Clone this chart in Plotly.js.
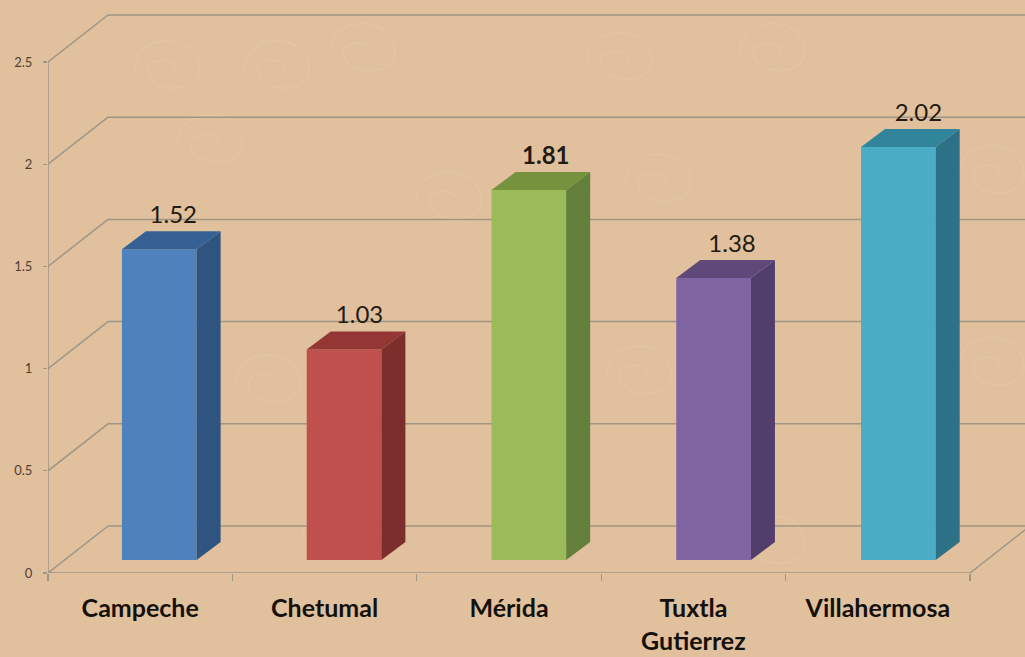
<!DOCTYPE html>
<html>
<head>
<meta charset="utf-8">
<script src="https://cdn.plot.ly/plotly-3.0.1.min.js"></script>
<style>html,body{margin:0;padding:0;background:#E1C19D;overflow:hidden}</style>
</head>
<body>
<div id="chart" style="width:1025px;height:657px"></div>
<script>
const categories = ["Campeche", "Chetumal", "Mérida", "Tuxtla<br>Gutierrez", "Villahermosa"];
const values = [1.52, 1.03, 1.81, 1.38, 2.02];
const valueLabels = ["1.52", "1.03", "<b>1.81</b>", "1.38", "2.02"];
const frontColors = ["#4F81BD", "#C0504D", "#9BBB59", "#8064A2", "#4BACC6"];
const sideColors = ["#2F5480", "#7C2E2C", "#62803A", "#523E6C", "#2C7185"];
const topColors = ["#356093", "#943634", "#76923C", "#5F497A", "#31859B"];
const yTicks = [0, 0.5, 1, 1.5, 2, 2.5];
const swirlCenters = [[125,80],[240,80],[170,165],[330,60],[600,70],[760,60],[420,230],[640,210],[990,200],[230,440],[620,430],[990,420],[300,620],[760,625]];

const W = 1025, H = 657, ML = 48, MB = 84;
const pxX = 184.4, pxY = 204.4;
const depthX = 60 / pxX, depthY = 47 / pxY;
const xMax = (W - ML) / pxX, yMax = (H - MB) / pxY;
const n = categories.length;
const barStep = 1.002, barOffset = 0.401, barWidth = 0.405;
const baseY = 13 / pxY;
const barDX = 24 / pxX, barDY = 18 / pxY;

const line = (x0, y0, x1, y1, c) => ({type: "line", layer: "below", xref: "x", yref: "y",
  x0, y0, x1, y1, line: {color: c || "#9F9585", width: 1.5}});
const swirl = ([cx, cy]) => {
  const a = 34, b = 20, c = 9;
  const X = v => ((cx + v) / W).toFixed(4), Y = v => (1 - (cy + v) / H).toFixed(4);
  return {type: "path", layer: "below", xref: "paper", yref: "paper",
    path: `M ${X(-a)} ${Y(0)} C ${X(-a)} ${Y(-a*1.3)} ${X(a)} ${Y(-a*1.3)} ${X(a)} ${Y(0)} ` +
          `C ${X(a)} ${Y(b*1.4)} ${X(-b)} ${Y(b*1.4)} ${X(-b)} ${Y(0)} ` +
          `C ${X(-b)} ${Y(-c*1.6)} ${X(c)} ${Y(-c*1.6)} ${X(c)} ${Y(0)}`,
    line: {color: "#E3C5A3", width: 1.5}, fillcolor: "rgba(0,0,0,0)"};
};
const shapes = swirlCenters.map(swirl);
yTicks.forEach(t => {
  shapes.push(line(0, t, depthX, t + depthY));
  shapes.push(line(depthX, t + depthY, xMax, t + depthY));
});
shapes.push(line(0, 0, 0, yTicks[yTicks.length - 1]));
shapes.push(line(0, 0, n, 0));
shapes.push(line(n, 0, n + depthX, depthY));

const traces = [];
traces.push({type: "bar", x: categories.map((_, i) => i * barStep), y: values.map(v => v), base: baseY,
  width: barWidth, offset: barOffset, marker: {color: frontColors, line: {width: 0}},
  hoverinfo: "skip", showlegend: false});
values.forEach((v, i) => {
  const l = i * barStep + barOffset, r = l + barWidth, top = baseY + v;
  traces.push({type: "scatter", mode: "lines", fill: "toself", fillcolor: sideColors[i],
    x: [r, r + barDX, r + barDX, r, r], y: [baseY, baseY + barDY, top + barDY, top, baseY],
    line: {width: 0, color: sideColors[i]}, hoverinfo: "skip", showlegend: false});
  traces.push({type: "scatter", mode: "lines", fill: "toself", fillcolor: topColors[i],
    x: [l, l + barDX, r + barDX, r, l], y: [top, top + barDY, top + barDY, top, top],
    line: {width: 0, color: topColors[i]}, hoverinfo: "skip", showlegend: false});
});
traces.push({type: "scatter", mode: "text", cliponaxis: false,
  x: values.map((_, i) => i * barStep + barOffset + barWidth / 2 + barDX / 2 + (2 + 1.5 * i) / pxX),
  y: values.map(v => baseY + v + barDY + 14 / pxY),
  text: valueLabels, textposition: "middle center",
  textfont: {family: "Lato, sans-serif", size: 24, color: "#231a12"},
  hoverinfo: "skip", showlegend: false});

Plotly.newPlot("chart", traces, {
  width: W, height: H,
  margin: {l: ML, r: 0, t: 0, b: MB, pad: 0},
  paper_bgcolor: "#E1C19D", plot_bgcolor: "rgba(0,0,0,0)",
  showlegend: false, shapes,
  xaxis: {range: [0, xMax], tickmode: "array", tickvals: categories.map((_, i) => i + 0.5),
    ticktext: categories, ticks: "", showgrid: false, zeroline: false, showline: false,
    tickangle: 0, ticklabelstandoff: 18,
    tickfont: {family: "Lato, sans-serif", size: 25, color: "#15100c", weight: 700},
    minor: {dtick: 1, tick0: 0, ticks: "outside", ticklen: 7, tickwidth: 1.4, tickcolor: "#9F9585", showgrid: false}},
  yaxis: {range: [0, yMax], tickmode: "array", tickvals: yTicks, ticktext: yTicks.map(String),
    ticks: "outside", ticklen: 4, tickwidth: 1.2, tickcolor: "#9F9585", showgrid: false, zeroline: false,
    showline: false, ticklabelstandoff: 8,
    tickfont: {family: "Lato, sans-serif", size: 13, color: "#4F4032"}}
}, {displayModeBar: false, staticPlot: true});
</script>
</body>
</html>
